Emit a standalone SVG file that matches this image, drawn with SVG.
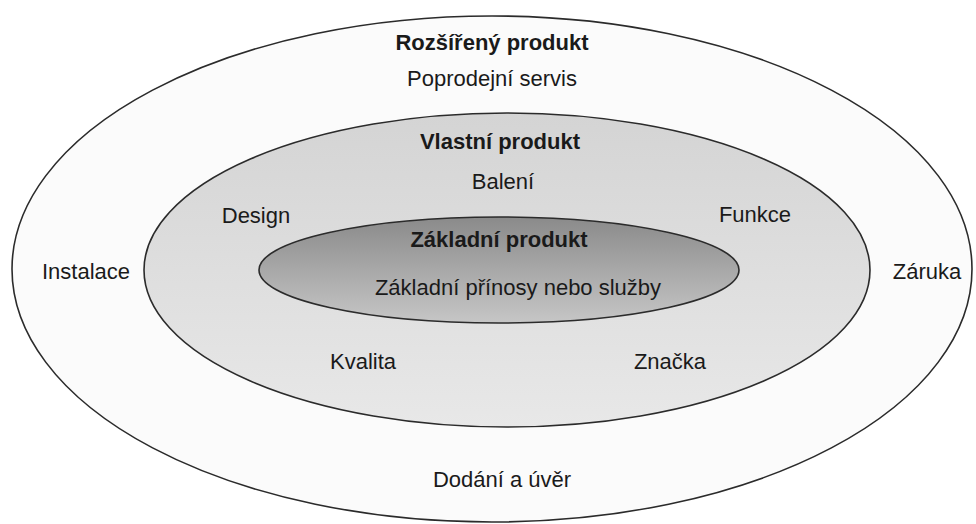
<svg xmlns="http://www.w3.org/2000/svg" width="976" height="524" viewBox="0 0 976 524">
  <defs>
    <linearGradient id="gMid" x1="0" y1="0" x2="0" y2="1">
      <stop offset="0" stop-color="#d4d4d4"/>
      <stop offset="1" stop-color="#e8e8e8"/>
    </linearGradient>
    <linearGradient id="gCore" x1="0" y1="0" x2="0" y2="1">
      <stop offset="0" stop-color="#8a8a8a"/>
      <stop offset="1" stop-color="#c6c6c6"/>
    </linearGradient>
  </defs>
  <style>
    .ring { stroke: #2b2b2b; stroke-width: 1.6; }
    text { font-family: "Liberation Sans", Arial, Helvetica, sans-serif; font-size: 22px; fill: #1a1a1a; text-anchor: middle; }
    .head { font-weight: bold; }
  </style>
  <rect width="976" height="524" fill="#ffffff"/>

  <g id="augmented">
    <ellipse class="ring" cx="492" cy="269" rx="480" ry="253" fill="#fbfbfb"/>
    <text class="head" x="492" y="50">Rozšířený produkt</text>
    <text x="492" y="86">Poprodejní servis</text>
    <text x="86" y="279">Instalace</text>
    <text x="927" y="279">Záruka</text>
    <text x="502" y="487">Dodání a úvěr</text>
  </g>

  <g id="actual">
    <ellipse class="ring" cx="507" cy="270" rx="363" ry="157" fill="url(#gMid)"/>
    <text class="head" x="500" y="149">Vlastní produkt</text>
    <text x="503" y="189">Balení</text>
    <text x="256" y="223">Design</text>
    <text x="755" y="222">Funkce</text>
    <text x="363" y="369">Kvalita</text>
    <text x="670" y="369">Značka</text>
  </g>

  <g id="core">
    <ellipse class="ring" cx="499" cy="270" rx="240" ry="53" fill="url(#gCore)"/>
    <text class="head" x="499" y="247">Základní produkt</text>
    <text x="518" y="295">Základní přínosy nebo služby</text>
  </g>

  <g id="connectors"/>
</svg>
